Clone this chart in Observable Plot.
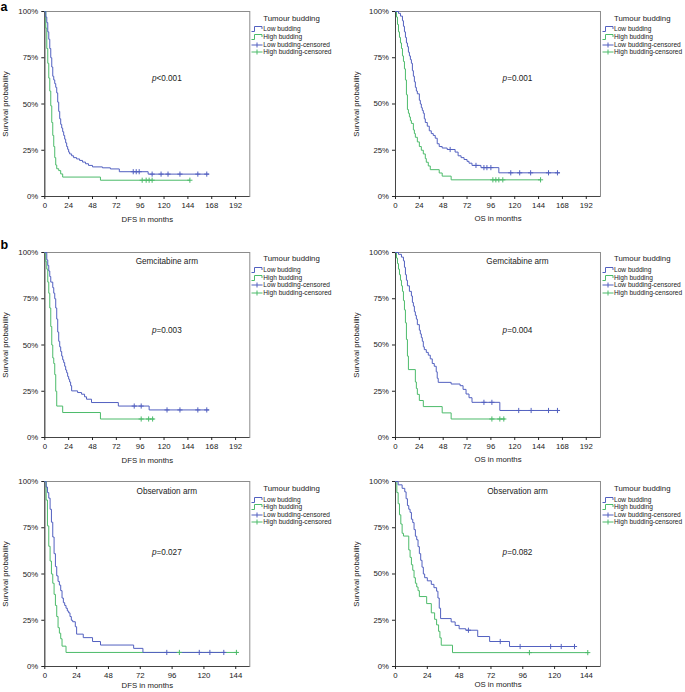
<!DOCTYPE html>
<html><head><meta charset="utf-8">
<script src="https://cdn.jsdelivr.net/npm/d3@7"></script>
<script src="https://cdn.jsdelivr.net/npm/@observablehq/plot@0.6"></script>
<style>
body{margin:0;background:#fff;font-family:"Liberation Sans",Arial,sans-serif;}
#fig{position:relative;width:685px;height:692px;overflow:hidden;background:#fff;}
.panel{position:absolute;}
.txt{position:absolute;white-space:nowrap;color:#222;line-height:1;}
.ctr{transform:translate(-50%,-50%);}
.mid{transform:translate(0,-50%);}
.lgsvg{position:absolute;}
.letter{position:absolute;font-weight:bold;font-size:12.5px;color:#000;line-height:12.5px;}
</style></head>
<body><div id="fig"></div>
<script>
// ---------- data ----------
const yTicks = [0, 25, 50, 75, 100];
const xTicksLong = [0, 24, 48, 72, 96, 120, 144, 168, 192];
const xTicksShort = [0, 24, 48, 72, 96, 120, 144];
const groupNames = ["Low budding", "High budding"];
const legendTitle = "Tumour budding";
const legendLabels = ["Low budding", "High budding", "Low budding-censored", "High budding-censored"];
const panelLetters = ["a", "b"];
const armTitles = ["Gemcitabine arm", "Observation arm"];
const pValues = ["<0.001", "=0.001", "=0.003", "=0.004", "=0.027", "=0.082"];
const xLabels = ["DFS in months", "OS in months"];

// Panel a: DFS, all patients  [month, survival %]
const dfsAllLow = [[0,100],[1,97],[2,94],[3,89],[4,85],[5,80],[6,75],[7,70],[8,65],[9,63],[10,61],[11,59],[12,56],[13,51],[14,46],[15,42],[16,39],[17,37],[18,35],[19,33],[20,31],[21,29],[22,27],[23,25.5],[24,24],[25,23],[27,22],[29,21],[32,20.3],[35,19.5],[38,18.6],[41,17.7],[44,16.8],[48,16],[58,15.5],[66,14.9],[75,13.4],[104,12.1],[165,12.1]];
const dfsAllLowCens = [89,92,95,108,117,124,136,154,163];
const dfsAllHigh = [[0,100],[1,91],[2,80],[3,72],[4,64],[5,57],[6,49],[7,40],[8,33],[9,27],[10,21],[11,17],[12,15],[14,14],[16,12.2],[18,10.5],[56,8.8],[146,8.8]];
const dfsAllHighCens = [98,102,105,108,146];

// Panel a: OS, all patients
const osAllLow = [[0,100],[3,99],[5,97.5],[7,95],[8,92],[9,89],[10,86],[11,83],[12,81],[13,78],[14,76],[15,74],[16,72],[17,68],[18,65],[19,62],[20,59],[21,57],[22,55.5],[24,52],[25,50],[26,48],[27,46.5],[28,45],[29,42],[30,40],[32,38],[34,35.5],[36,34],[38,33],[40,31.5],[42,28.5],[44,27],[47,26.2],[52,25.4],[60,24],[63,22],[66,21],[69,20],[72,19],[74,18],[77,16.8],[86,15.6],[104,12.8],[165,12.8]];
const osAllLowCens = [55,81,89,92,96,116,125,136,154,163];
const osAllHigh = [[0,100],[1,97],[2,93],[3,89],[4,86],[5,83],[6,80],[7,76],[8,73],[9,69],[10,63],[11,55],[12,47],[13,45],[14,43],[15,41],[16,39.5],[18,36],[19,34],[20,32],[22,29.5],[24,27],[26,25],[28,23],[30,20.5],[31,18.5],[33,16.5],[35,14.5],[44,12.7],[47,11],[56,9],[146,9]];
const osAllHighCens = [98,101,104,108,146];

// Panel b: DFS, gemcitabine arm
const gemDfsLow = [[0,100],[2,96],[3,93],[4,90],[5,87],[6,84],[8,81],[9,78],[10,75],[11,70],[12,64],[13,57],[14,52],[15,49],[16,46.5],[17,44],[18,42],[19,40.5],[20,38.5],[21,36.5],[22,35],[23,33],[24,31.5],[25,30],[26,28],[27,25.2],[33,24.3],[37,23.4],[40,22],[42,20.7],[47,18.9],[74,17],[105,14.9],[165,14.9]];
const gemDfsLowCens = [90,97,123,136,154,163];
const gemDfsHigh = [[0,100],[1,95],[2,91],[3,84],[4,78],[5,70],[6,60],[7,50],[8,43],[9,40],[10,34],[11,25],[12,17],[18,13.5],[56,10],[110,10]];
const gemDfsHighCens = [97,104.5,108.5];

// Panel b: OS, gemcitabine arm
const gemOsLow = [[0,100],[3,99],[6,97.5],[8,95.5],[9,92],[10,88],[11,85],[12,82],[14,79],[16,76.5],[17,73],[18,71],[19,68],[20,66],[21,64],[22,61],[24,58],[25,56],[26,54],[27,52],[28,49],[29,47.5],[31,46],[33,44.5],[35,42.5],[37,40],[39,38.5],[41,35.5],[42,32],[43,29.8],[56,28.9],[65,28],[68,26],[71,23.5],[74,21.5],[77,19],[105,14.6],[165,14.6]];
const gemOsLowCens = [89,97,124,136.5,154,163];
const gemOsHigh = [[0,100],[1,97],[2,94],[3,91],[4,88],[5,85],[6,82],[7,79],[8,74],[9,69],[10,62],[11,53],[12,44],[13,36.7],[20,30],[21,26.5],[22,23.3],[24,20],[28,16.7],[47,13.3],[56,10],[110,10]];
const gemOsHighCens = [97,105,109];

// Panel b: DFS, observation arm
const obsDfsLow = [[0,100],[1,97],[2,94],[3,91],[4,85],[5,78],[6,70],[7,61],[8,54],[9,49],[10,46],[11,44],[12,41],[13,37],[14,34.5],[15,33],[16,31.5],[17,30],[18,29],[19,27],[20,25],[21,24.2],[23,21.5],[24,17.5],[29,15.6],[36,13.5],[42,11.6],[67,9.8],[74,7.6],[136,7.6]];
const obsDfsLowCens = [92,116.5,124.5,135];
const obsDfsHigh = [[0,100],[1,90],[2,76],[3,65],[4,57],[5,50],[6,45],[7,39],[8,33],[9,27],[10,21],[11,18],[12,15],[13,11],[16,7.6],[145.5,7.6]];
const obsDfsHighCens = [101.5,144.5];

// Panel b: OS, observation arm
const obsOsLow = [[0,100],[2,98.2],[5,96.3],[7,94.4],[8,90.7],[9,87],[10,85],[11,83.3],[12,79.6],[13,77.8],[14,74],[15,70.4],[16,68.5],[17,64.8],[18,61],[19,57.4],[20,53.7],[21,50],[22,48],[24,46.3],[27,44.4],[29,42.6],[31,40.7],[32,37],[33,31.5],[34,25.9],[42,24.1],[45,22.2],[48,20.4],[53,19.6],[62,16.2],[71,13.5],[86,10.8],[135.5,10.8]];
const obsOsLowCens = [55,79,94,117,125,135];
const obsOsHigh = [[0,100],[1,94],[2,88],[3,82],[4,77],[5,72],[6,70.5],[10,63],[11,59],[12,55],[13,52],[14,48],[15,45],[16,43],[17,41],[18,37.8],[23.5,34],[27,29],[29.5,25.5],[31,22.5],[32.5,19],[33.5,15.5],[34.5,11.5],[43,7.5],[145.5,7.5]];
const obsOsHighCens = [101,145];

// ---------- styling / layout ----------
const BLUE = "#5260c0";
const GREEN = "#4cbb6a";
const FONT = "'Liberation Sans', Arial, sans-serif";
const colLayout = [
  {left: 0, marginLeft: 44.3, frameRight: 249.3},
  {left: 340, marginLeft: 55, frameRight: 600}
];
const rowTops = [11, 251.7, 481.3];
const labelOffsets = [25, 25, 21];
const FRAME_H = 185;

const panels = [
  {row:0,col:0, low:dfsAllLow, lowC:dfsAllLowCens, high:dfsAllHigh, highC:dfsAllHighCens, xl:0, p:0, arm:null, long:true, pdy:68},
  {row:0,col:1, low:osAllLow, lowC:osAllLowCens, high:osAllHigh, highC:osAllHighCens, xl:1, p:1, arm:null, long:true, pdy:68},
  {row:1,col:0, low:gemDfsLow, lowC:gemDfsLowCens, high:gemDfsHigh, highC:gemDfsHighCens, xl:0, p:2, arm:0, long:true, pdy:79.5},
  {row:1,col:1, low:gemOsLow, lowC:gemOsLowCens, high:gemOsHigh, highC:gemOsHighCens, xl:1, p:3, arm:0, long:true, pdy:79.5},
  {row:2,col:0, low:obsDfsLow, lowC:obsDfsLowCens, high:obsDfsHigh, highC:obsDfsHighCens, xl:0, p:4, arm:1, long:false, pdy:72},
  {row:2,col:1, low:obsOsLow, lowC:obsOsLowCens, high:obsOsHigh, highC:obsOsHighCens, xl:1, p:5, arm:1, long:false, pdy:72}
];

function survAt(curve, t) {
  let s = curve[0][1];
  for (const [ti, si] of curve) { if (ti <= t) s = si; }
  return s;
}

const fig = document.getElementById("fig");

function addDiv(cls, html, left, top, style) {
  const d = document.createElement("div");
  d.className = cls;
  d.innerHTML = html;
  d.style.left = left + "px";
  d.style.top = top + "px";
  if (style) Object.assign(d.style, style);
  fig.appendChild(d);
  return d;
}

for (const p of panels) {
  const col = colLayout[p.col];
  const frameTop = rowTops[p.row];
  const width = col.frameRight - col.left + 5.7;
  const marginRight = width - (col.frameRight - col.left);
  const xMax = p.long ? 206.3 : 154.6;
  const toRows = (c) => c.map(([t, s]) => ({t, s}));
  const toCens = (c, curve) => c.map(t => ({t, s: survAt(curve, t)}));

  const chart = Plot.plot({
    width: width,
    height: FRAME_H + 11 + 30,
    marginLeft: col.marginLeft,
    marginRight: marginRight,
    marginTop: 11,
    marginBottom: 30,
    x: {domain: [0, xMax]},
    y: {domain: [0, 100]},
    style: {fontFamily: FONT, fontSize: "7.8px", color: "#222", background: "transparent", overflow: "visible"},
    marks: [
      Plot.frame({stroke: "#8c8c8c", strokeWidth: 1}),
      Plot.ruleX([0], {stroke: "#444"}),
      Plot.ruleY([0], {stroke: "#444"}),
      Plot.axisY({ticks: yTicks, tickFormat: d => d + "%", tickSize: 3, tickPadding: 3.5,
        label: "Survival probability", labelAnchor: "center", labelOffset: 42.5, labelArrow: "none"}),
      Plot.axisX({ticks: p.long ? xTicksLong : xTicksShort, tickSize: 3, tickPadding: 2.5,
        label: xLabels[p.xl], labelAnchor: "center", labelOffset: labelOffsets[p.row], labelArrow: "none"}),
      Plot.line(toRows(p.high), {x: "t", y: "s", curve: "step-after", stroke: GREEN, strokeWidth: 1}),
      Plot.line(toRows(p.low), {x: "t", y: "s", curve: "step-after", stroke: BLUE, strokeWidth: 1}),
      Plot.dot(toCens(p.highC, p.high), {x: "t", y: "s", symbol: "plus", r: 1.8, stroke: GREEN, strokeWidth: 1}),
      Plot.dot(toCens(p.lowC, p.low), {x: "t", y: "s", symbol: "plus", r: 1.8, stroke: BLUE, strokeWidth: 1})
    ]
  });
  chart.classList.add("panel");
  chart.style.left = col.left + "px";
  chart.style.top = (frameTop - 11) + "px";
  fig.appendChild(chart);

  // annotations
  const fLeft = col.left + col.marginLeft;
  const cx = (fLeft + col.frameRight) / 2 + 20;
  if (p.arm !== null) addDiv("txt ctr", armTitles[p.arm], cx, frameTop + 10.5, {fontSize: "8.2px"});
  addDiv("txt ctr", "<i>p</i>" + pValues[p.p].replace("<", "&lt;"), cx, frameTop + p.pdy, {fontSize: "8.2px"});

  // legend
  const lx = col.frameRight;
  addDiv("txt mid", legendTitle, lx + 14, frameTop + 7.5, {fontSize: "7.8px"});
  legendLabels.forEach((lab, i) => {
    const cy = frameTop + 18.3 + i * 7.6;
    const color = i % 2 === 0 ? BLUE : GREEN;
    const svgNS = "http://www.w3.org/2000/svg";
    const s = document.createElementNS(svgNS, "svg");
    s.setAttribute("width", 12); s.setAttribute("height", 8);
    s.setAttribute("class", "lgsvg");
    s.style.left = (lx + 2) + "px"; s.style.top = (cy - 4) + "px";
    const path = document.createElementNS(svgNS, "path");
    path.setAttribute("d", i < 2 ? "M0.5,6.5H3.5V1.5H11V4" : "M0.5,4H11.5M6,1.5V6.5");
    path.setAttribute("fill", "none"); path.setAttribute("stroke", color); path.setAttribute("stroke-width", 1);
    s.appendChild(path);
    fig.appendChild(s);
    addDiv("txt mid", lab, lx + 14, cy, {fontSize: "6.6px"});
  });
}

addDiv("letter", panelLetters[0], 0.5, 0.5);
addDiv("letter", panelLetters[1], 0.5, 238.5);
</script>
</body></html>
